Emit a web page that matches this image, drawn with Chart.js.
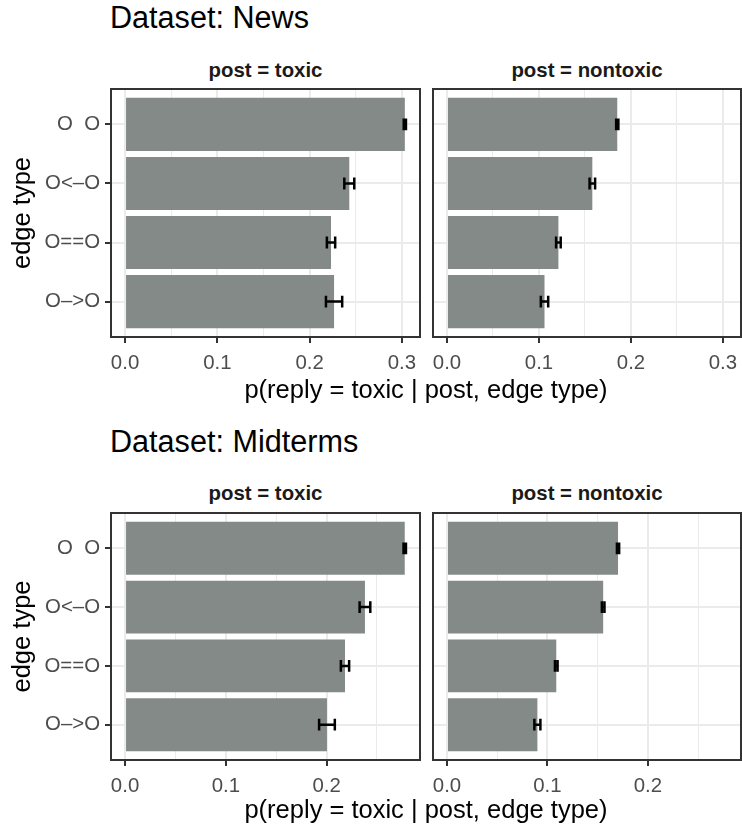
<!DOCTYPE html>
<html>
<head>
<meta charset="utf-8">
<script src="https://cdn.jsdelivr.net/npm/chart.js@4"></script>
<style>
  body { margin: 0; background: #fff; width: 742px; height: 827px; position: relative; overflow: hidden;
         font-family: 'Liberation Sans', Arial, Helvetica, sans-serif; }
  .txt { position: absolute; white-space: nowrap; line-height: 1; }
  .title { font-size: 30.6px; color: #000; }
  .strip { font-size: 20.4px; font-weight: bold; color: #1a1a1a; text-align: center; }
  .axtitle { font-size: 25.5px; color: #000; text-align: center; }
  .panel { position: absolute; }
</style>
</head>
<body>
<script>
// edge types, top to bottom
const edgeTypes = ['O  O', 'O<\u2013O', 'O==O', 'O\u2013>O'];
const facets = ['post = toxic', 'post = nontoxic'];
const xTitle = 'p(reply = toxic | post, edge type)';
const yTitle = 'edge type';

// News
const newsToxic = [0.3032, 0.2430, 0.2232, 0.2265];
const newsToxicErr = [0.0012, 0.0054, 0.0045, 0.0088];
const newsNontoxic = [0.1851, 0.1580, 0.1211, 0.1060];
const newsNontoxicErr = [0.0012, 0.0030, 0.0025, 0.0040];

// Midterms
const midToxic = [0.2776, 0.2381, 0.2183, 0.2004];
const midToxicErr = [0.0012, 0.0053, 0.0041, 0.0078];
const midNontoxic = [0.1703, 0.1555, 0.1088, 0.0900];
const midNontoxicErr = [0.0011, 0.0013, 0.0013, 0.0030];

const barColor = '#848a87';
const gridColor = '#ebebeb';
const darkLine = '#333333';
const fontFamily = "'Liberation Sans', Arial, Helvetica, sans-serif";

// error bars drawn from the dataset values through the chart scales
const errorBars = {
  id: 'errorBars',
  afterDatasetsDraw(chart) {
    const ds = chart.data.datasets[0];
    const xs = chart.scales.x, ys = chart.scales.y;
    const ctx = chart.ctx;
    ctx.save();
    ctx.strokeStyle = '#000';
    ctx.lineWidth = 2.5;
    ds.errors.forEach((e, i) => {
      const p = ds.data[i];
      const x0 = xs.getPixelForValue(p.x - e);
      const x1 = xs.getPixelForValue(p.x + e);
      const y = ys.getPixelForValue(p.y);
      const h = Math.abs(ys.getPixelForValue(p.y + 0.1) - y);
      ctx.beginPath();
      ctx.moveTo(x0, y); ctx.lineTo(x1, y);
      ctx.moveTo(x0, y - h); ctx.lineTo(x0, y + h);
      ctx.moveTo(x1, y - h); ctx.lineTo(x1, y + h);
      ctx.stroke();
    });
    ctx.restore();
  }
};

// dark frame round each facet
const panelBorder = {
  id: 'panelBorder',
  afterDraw(chart) {
    const a = chart.chartArea;
    const ctx = chart.ctx;
    ctx.save();
    ctx.strokeStyle = darkLine;
    ctx.lineWidth = 2;
    ctx.strokeRect(a.left, a.top, a.right - a.left, a.bottom - a.top);
    ctx.restore();
  }
};

function isMajor(v) {
  return Math.round(v * 20) % 2 === 0;
}

function noPadding(s) {
  s.paddingTop = 0; s.paddingBottom = 0;
  s.paddingLeft = 0; s.paddingRight = 0;
}

function addText(cls, text, left, top, width) {
  let d = document.createElement('div');
  d.className = 'txt ' + cls;
  d.textContent = text;
  d.style.left = left + 'px';
  d.style.top = top + 'px';
  if (width) d.style.width = width + 'px';
  document.body.appendChild(d);
}

function makePanel(left, top, width, height, values, errs, xMin, xMax, first) {
  let wrap = document.createElement('div');
  wrap.className = 'panel';
  wrap.style.left = left + 'px';
  wrap.style.top = top + 'px';
  wrap.style.width = width + 'px';
  wrap.style.height = height + 'px';
  let canvas = document.createElement('canvas');
  wrap.appendChild(canvas);
  document.body.appendChild(wrap);

  return new Chart(canvas, {
    type: 'bar',
    data: {
      datasets: [{
        data: values.map((v, i) => ({ x: v, y: i + 1 })),
        errors: errs,
        backgroundColor: barColor,
        borderWidth: 0,
        barPercentage: 0.9,
        categoryPercentage: 1
      }]
    },
    options: {
      indexAxis: 'y',
      responsive: true,
      maintainAspectRatio: false,
      animation: false,
      layout: { autoPadding: false, padding: { top: 3, right: first ? 3 : 1, left: first ? 0 : 5, bottom: 0 } },
      plugins: { legend: { display: false }, tooltip: { enabled: false } },
      scales: {
        x: {
          type: 'linear',
          min: xMin,
          max: xMax,
          afterBuildTicks: (s) => {
            let t = [];
            for (let k = 0; k * 0.05 <= xMax; k++) t.push({ value: +(k * 0.05).toFixed(2) });
            s.ticks = t;
          },
          afterFit: (s) => { s.height = 45; noPadding(s); },
          border: { display: false },
          grid: {
            color: gridColor,
            lineWidth: (c) => isMajor(c.tick.value) ? 2 : 1,
            tickColor: (c) => isMajor(c.tick.value) ? darkLine : 'rgba(0,0,0,0)',
            tickWidth: 2,
            tickLength: 6
          },
          ticks: {
            autoSkip: false,
            maxRotation: 0,
            padding: 8,
            color: '#4d4d4d',
            font: { family: fontFamily, size: 20.4 },
            callback: (v) => isMajor(v) ? v.toFixed(1) : ''
          }
        },
        y: {
          type: 'linear',
          reverse: true,
          min: 0.4,
          max: 4.6,
          offset: false,
          afterBuildTicks: (s) => { s.ticks = edgeTypes.map((c, i) => ({ value: i + 1 })); },
          afterFit: (s) => { s.width = first ? 111 : 0; noPadding(s); },
          border: { display: false },
          grid: {
            offset: false,
            color: gridColor,
            lineWidth: 2,
            drawTicks: first,
            tickColor: darkLine,
            tickWidth: 2,
            tickLength: 6
          },
          ticks: {
            display: first,
            autoSkip: false,
            padding: 5,
            color: '#4d4d4d',
            font: { family: fontFamily, size: 20.4 },
            callback: (v) => edgeTypes[v - 1]
          },
          title: {
            display: first,
            text: yTitle,
            color: '#000',
            font: { family: fontFamily, size: 25.5, lineHeight: 1 },
            padding: { top: 10, bottom: 0 }
          }
        }
      }
    },
    plugins: [errorBars, panelBorder]
  });
}

function makeBlock(name, toxic, toxicErr, nontoxic, nontoxicErr, lay) {
  let upper = Math.max(...toxic.map((v, i) => v + toxicErr[i]), ...nontoxic.map((v, i) => v + nontoxicErr[i]));
  let xMin = -0.05 * upper, xMax = 1.05 * upper;
  let h = 3 + lay.panelH + 45;

  addText('title', 'Dataset: ' + name, 110, lay.titleTop);
  addText('strip', facets[0], 111, lay.stripTop, 309);
  addText('strip', facets[1], 433, lay.stripTop, 308);

  makePanel(0, lay.panelTop - 3, 423, h, toxic, toxicErr, xMin, xMax, true);
  makePanel(428, lay.panelTop - 3, 314, h, nontoxic, nontoxicErr, xMin, xMax, false);

  addText('axtitle', xTitle, 111, lay.axisTop, 630);
}

makeBlock('News', newsToxic, newsToxicErr, newsNontoxic, newsNontoxicErr,
  { titleTop: 2.4, stripTop: 60, panelTop: 89, panelH: 248, axisTop: 377.4 });
makeBlock('Midterms', midToxic, midToxicErr, midNontoxic, midNontoxicErr,
  { titleTop: 425.8, stripTop: 483.4, panelTop: 513, panelH: 247, axisTop: 797 });
</script>
</body>
</html>
